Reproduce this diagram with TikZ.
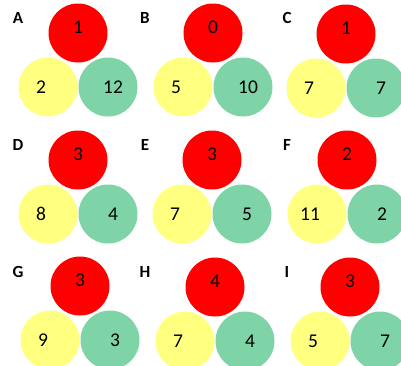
\documentclass[tikz,border=0pt]{standalone}
\usepackage{fontspec}
\setmainfont{Carlito}
\usetikzlibrary{positioning}
\definecolor{redfill}{RGB}{255,0,0}
\definecolor{yellowfill}{RGB}{255,255,128}
\definecolor{greenfill}{RGB}{126,212,166}
\tikzset{
disc/.style={circle,minimum size=59pt,inner sep=0pt},
num/.style={font=\fontsize{19.5}{22}\selectfont,inner sep=0pt},
reddisc/.style={disc,fill=redfill,label={[num,yshift=6pt]center:#1}},
yellowdisc/.style={disc,fill=yellowfill,label={[num,xshift=-7pt]center:#1}},
greendisc/.style={disc,fill=greenfill,label={[num,xshift=5pt]center:#1}},
tag/.style={font=\fontsize{17}{20}\selectfont\bfseries,inner sep=0pt}
}
\begin{document}
\begin{tikzpicture}[x=1pt,y=1pt,node distance=54pt and 30pt,on grid]
\clip (0,0) rectangle (401,-365);

\node[tag] (ta) at (18,-18) {A};
\node[reddisc=1] (ra) at (78,-33) {};
\node[yellowdisc=2,below left=54pt and 30pt of ra] (ya) {};
\node[greendisc=12,below right=54pt and 30pt of ra] (ga) {};

\node[tag] (tb) at (145,-18) {B};
\node[reddisc=0] (rb) at (213,-33) {};
\node[yellowdisc=5,below left=54pt and 30pt of rb] (yb) {};
\node[greendisc=10,below right=54pt and 30pt of rb] (gb) {};

\node[tag] (tc) at (287,-18) {C};
\node[reddisc=1] (rc) at (346,-34) {};
\node[yellowdisc=7,below left=54pt and 30pt of rc] (yc) {};
\node[greendisc=7,below right=54pt and 30pt of rc] (gc) {};

\node[tag] (td) at (18,-145) {D};
\node[reddisc=3] (rd) at (78,-160) {};
\node[yellowdisc=8,below left=54pt and 30pt of rd] (yd) {};
\node[greendisc=4,below right=54pt and 30pt of rd] (gd) {};

\node[tag] (te) at (145,-145) {E};
\node[reddisc=3] (re) at (212,-160) {};
\node[yellowdisc=7,below left=54pt and 30pt of re] (ye) {};
\node[greendisc=5,below right=54pt and 30pt of re] (ge) {};

\node[tag] (tf) at (287,-145) {F};
\node[reddisc=2] (rf) at (347,-160) {};
\node[yellowdisc=11,below left=54pt and 30pt of rf] (yf) {};
\node[greendisc=2,below right=54pt and 30pt of rf] (gf) {};

\node[tag] (tg) at (18,-272) {G};
\node[reddisc=3] (rg) at (80,-286) {};
\node[yellowdisc=9,below left=54pt and 30pt of rg] (yg) {};
\node[greendisc=3,below right=54pt and 30pt of rg] (gg) {};

\node[tag] (th) at (145,-272) {H};
\node[reddisc=4] (rh) at (215,-287) {};
\node[yellowdisc=7,below left=54pt and 30pt of rh] (yh) {};
\node[greendisc=4,below right=54pt and 30pt of rh] (gh) {};

\node[tag] (ti) at (287,-272) {I};
\node[reddisc=3] (ri) at (350,-287) {};
\node[yellowdisc=5,below left=54pt and 30pt of ri] (yi) {};
\node[greendisc=7,below right=54pt and 30pt of ri] (gi) {};
\end{tikzpicture}
\end{document}
